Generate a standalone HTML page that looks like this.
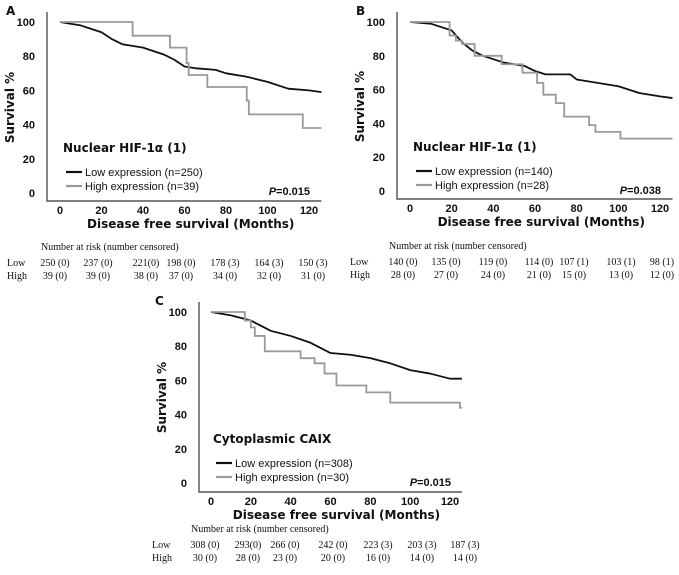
<!DOCTYPE html>
<html><head><meta charset="utf-8"><style>
body{margin:0;background:#fff;width:679px;height:575px;overflow:hidden}
svg{display:block}
.tk{font:bold 11px "Liberation Sans",sans-serif;fill:#111}
.tt{font:bold 12px "DejaVu Sans","Liberation Sans",sans-serif;fill:#111}
.lg{font:11px "Liberation Sans",sans-serif;fill:#111}
.tb{font:10px "Liberation Serif",serif;fill:#111}
</style></head><body>
<svg id="fig" width="679" height="575"></svg>
<script>
const xTicks=[0,20,40,60,80,100,120];
const yTicks=[0,20,40,60,80,100];
const aLowT=[0,5,10,15,20,25,30,40,50,55,60,65,75,80,90,100,110,120,126];
const aLowS=[100,99,98,96,94,90,87,85,81,78,74,73,72,70,68,65,61,60,59];
const aHighT=[35,53,61,62,71,90,91,117];
const aHighS=[92,85,76,69,62,54,46,38];
const bLowT=[0,10,15,20,25,30,35,40,45,55,60,65,77,80,90,100,110,120,126];
const bLowS=[100,99,97,95,88,83,80,78,76,74,71,69,69,66,64,62,58,56,55];
const bHighT=[19,22,25,31,44,54,57,61,64,70,74,86,89,101];
const bHighS=[92,89,87,80,75,70,70,64,57,52,44,39,35,31];
const cLowT=[0,10,20,30,40,50,55,60,70,80,90,100,110,120,126];
const cLowS=[100,98,95,89,86,82,79,76,75,73,70,66,64,61,61];
const cHighT=[17,20,22,27,45,52,57,63,78,90,125];
const cHighS=[95,91,86,77,73,70,64,57,53,47,44];
const aRiskLow=["250 (0)","237 (0)","221(0)","198 (0)","178 (3)","164 (3)","150 (3)"];
const aRiskHigh=["39 (0)","39 (0)","38 (0)","37 (0)","34 (0)","32 (0)","31 (0)"];
const bRiskLow=["140 (0)","135 (0)","119 (0)","114 (0)","107 (1)","103 (1)","98 (1)"];
const bRiskHigh=["28 (0)","27 (0)","24 (0)","21 (0)","15 (0)","13 (0)","12 (0)"];
const cRiskLow=["308 (0)","293(0)","266 (0)","242 (0)","223 (3)","203 (3)","187 (3)"];
const cRiskHigh=["30 (0)","28 (0)","23 (0)","20 (0)","16 (0)","14 (0)","14 (0)"];

const NS="http://www.w3.org/2000/svg";
const svg=document.getElementById('fig');
function mk(tag,attrs,parent,text){const e=document.createElementNS(NS,tag);for(const k in attrs)e.setAttribute(k,attrs[k]);if(text!=null)e.textContent=text;(parent||svg).appendChild(e);return e;}

function panel(cfg){
  const g=mk('g',{});
  
  
  const X=v=>cfg.x0+(v/120)*(cfg.x120-cfg.x0);
  const Y=v=>cfg.y0-(v/100)*(cfg.y0-cfg.y100);
  const lab=mk('text',{x:cfg.lx,y:cfg.ly,class:'tt','font-size':'14'},g,cfg.id.toUpperCase());
  
  
  const ax=mk('path',{d:`M${cfg.ax},${cfg.y100-10}V${cfg.ab}H${X(126)}`,stroke:'#333','stroke-width':1.2,fill:'none'},g);
  
  
  yTicks.forEach(t=>{const e=mk('text',{x:cfg.ax-12,y:Y(t)+4,class:'tk','text-anchor':'end'},g,t);
    
    });
  xTicks.forEach(t=>{const e=mk('text',{x:X(t),y:cfg.ab+13,class:'tk','text-anchor':'middle'},g,t);
    
    });
  const yt=mk('text',{x:0,y:0,class:'tt','text-anchor':'middle','font-size':'11.5',transform:`translate(${cfg.ax-33},${(cfg.y0+cfg.y100)/2}) rotate(-90)`},g,'Survival %');
  
  
  const xt=mk('text',{x:(cfg.x0+X(126))/2,y:cfg.ab+27,class:'tt','text-anchor':'middle','font-size':'10.5'},g,'Disease free survival (Months)');
  
  
  let d='';cfg.lowT.forEach((t,i)=>{d+=(i?'L':'M')+X(t)+','+Y(cfg.lowS[i]);});
  const lo=mk('path',{d,stroke:'#111','stroke-width':1.8,fill:'none','stroke-linejoin':'round'},g);
  
  
  let d2=`M${X(0)},${Y(100)}`;cfg.highT.forEach((t,i)=>{d2+=`H${X(t)}V${Y(cfg.highS[i])}`;});d2+=`H${X(126)}`;
  const hi=mk('path',{d:d2,stroke:'#999','stroke-width':1.8,fill:'none'},g);
  
  
  const ti=mk('text',{x:cfg.tx,y:cfg.ty,class:'tt','font-size':'14'},g,cfg.title);
  
  
  [['#111','Low expression (n='+cfg.nl+')'],['#999','High expression (n='+cfg.nh+')']].forEach((l,i)=>{
    const yy=cfg.ty+20+i*14;
    const ln=mk('line',{x1:cfg.tx+3,x2:cfg.tx+19,y1:yy,y2:yy,stroke:l[0],'stroke-width':2.2},g);
    
    
    const tx=mk('text',{x:cfg.tx+22,y:yy+4,class:'lg'},g,l[1]);
    
    
  });
  const p=mk('text',{x:X(120)+1,y:cfg.ty+43,class:'tk','text-anchor':'end','font-size':'11.5'},g);
  
  
  mk('tspan',{'font-style':'italic'},p,'P');mk('tspan',{},p,'='+cfg.p);
  const nr=mk('text',{x:cfg.cols[0]-14,y:cfg.ry,class:'tb'},g,'Number at risk (number censored)');
  
  
  [['Low',cfg.rl,16],['High',cfg.rh,29]].forEach(r=>{
    const rl=mk('text',{x:cfg.rlx,y:cfg.ry+r[2],class:'tb'},g,r[0]);
    
    
    r[1].forEach((v,i)=>{const e=mk('text',{x:cfg.cols[i],y:cfg.ry+r[2],class:'tb','text-anchor':'middle'},g,v);
      
      });
  });
}
panel({id:'a',x0:60,x120:309,y0:193,y100:22,ax:47,ab:201,lx:6,ly:15,tx:63,ty:152,title:'Nuclear HIF-1\u03b1 (1)',nl:250,nh:39,p:'0.015',
  lowT:aLowT,lowS:aLowS,highT:aHighT,highS:aHighS,ry:250,rlx:7,cols:[55,98,146,181,225,269,313],rl:aRiskLow,rh:aRiskHigh});
panel({id:'b',x0:410,x120:660,y0:191,y100:22,ax:397,ab:199,lx:356,ly:15,tx:413,ty:151,title:'Nuclear HIF-1\u03b1 (1)',nl:140,nh:28,p:'0.038',
  lowT:bLowT,lowS:bLowS,highT:bHighT,highS:bHighS,ry:249,rlx:350,cols:[403,446,493,539,574,621,662],rl:bRiskLow,rh:bRiskHigh});
panel({id:'c',x0:211,x120:450,y0:483,y100:312,ax:199,ab:492,lx:155,ly:305,tx:213,ty:443,title:'Cytoplasmic CAIX',nl:308,nh:30,p:'0.015',
  lowT:cLowT,lowS:cLowS,highT:cHighT,highS:cHighS,ry:532,rlx:152,cols:[205,248,285,333,378,422,465],rl:cRiskLow,rh:cRiskHigh});
</script>
</body></html>
